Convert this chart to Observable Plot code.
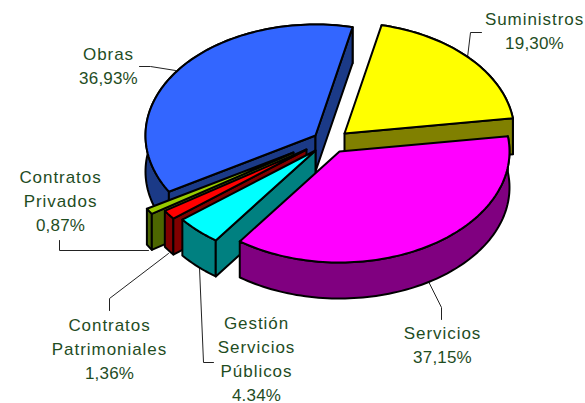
<!DOCTYPE html>
<html>
<head>
<meta charset="utf-8">
<style>
html,body{margin:0;padding:0;background:#fff}
</style>
<script src="https://cdn.jsdelivr.net/npm/d3@7"></script>
<script src="https://cdn.jsdelivr.net/npm/@observablehq/plot@0.6"></script>
</head>
<body>
<script>
// Data, clockwise from the first slice
const categories = ["Suministros","Servicios","Gestión\nServicios\nPúblicos","Contratos\nPatrimoniales","Contratos\nPrivados","Obras"];
const shares = [19.30,37.15,4.34,1.36,0.87,36.93];
const shareLabels = ["19,30%","37,15%","4.34%","1,36%","0,87%","36,93%"];
const topColors = ["#FFFF00","#FF00FF","#00FFFF","#FF0000","#99CC00","#3366FF"];
const sideColors = ["#808000","#800080","#008080","#800000","#4C6600","#1B3A87"];

// Layout of the exploded 3D pie
const apexX = [344,339,315,306,293,315];
const apexY = [133,151,150,149,152,135];
const labelX = [534,442,256,109,60,108];
const labelY = [43,357,395,373,225,78];
const leaderX = [[481,470,467],[428,441,441],[213,203,199],[109,109,168],[59,59,148],[139,150,175]];
const leaderY = [[32,32,57],[281,307,319],[362,362,267],[310,298,253],[240,250,250],[66,66,70]];
const startAngle = 12.6, rx = 170, ry = 111, depth = 36;
const drawOrder = [5,0,4,3,2,1];

const total = d3.sum(shares);
let acc = startAngle;
const spans = shares.map(s => { const a0 = acc; acc += s / total * 360; return [a0, acc]; });

const faces = [];
function addFace(id, fill, pts){ pts.forEach(([x,y]) => faces.push({id, fill, x, y})); }
drawOrder.forEach(i => {
  const [a0,a1] = spans[i], cx = apexX[i], cy = apexY[i];
  const P = a => { const t = a*Math.PI/180; return [cx + rx*Math.sin(t), cy - ry*Math.cos(t)]; };
  const arc = d3.range(a0, a1, 1.5).concat([a1]).map(P);
  const down = ([x,y]) => [x, y + depth];
  const apex = [cx,cy];
  addFace(`${i}-rim`, sideColors[i], [...arc, ...arc.map(down).reverse()]);
  // A straight side shows only when the drop from its edge leaves the slice
  if (a0 % 360 > 180) addFace(`${i}-a`, sideColors[i], [apex, P(a0), down(P(a0)), down(apex)]);
  if (a1 % 360 < 180) addFace(`${i}-b`, sideColors[i], [apex, P(a1), down(P(a1)), down(apex)]);
  addFace(`${i}-top`, topColors[i], [apex, ...arc]);
});

const leaders = leaderX.flatMap((xs,i) => xs.map((x,j) => ({i, x, y: leaderY[i][j]})));
const lineStep = 24;
const labels = categories.map((c,i) => ({name:c, value:shareLabels[i], x:labelX[i], y:labelY[i], ny:labelY[i]-lineStep+5}));

const textStyle = {fontFamily:"Liberation Sans, Arial, sans-serif",fontSize:17,fill:"#1F4D1F",textAnchor:"middle"};
const chart = Plot.plot({
  width:585, height:403, margin:0,
  x:{domain:[0,585], range:[0,585], axis:null},
  y:{domain:[0,403], range:[0,403], axis:null},
  style:{background:"#fff"},
  marks:[
    Plot.line(leaders,{x:"x",y:"y",z:"i",stroke:"#222",strokeWidth:1}),
    Plot.line(faces,{x:"x",y:"y",z:"id",fill:"fill",stroke:"#000",strokeWidth:2,strokeLinejoin:"round",curve:"linear-closed"}),
    Plot.text(labels,{...textStyle,x:"x",y:"ny",text:"name",lineAnchor:"bottom",lineHeight:lineStep/17}),
    Plot.text(labels,{...textStyle,x:"x",y:"y",text:"value",lineAnchor:"middle"})
  ]
});
const textGroups = chart.querySelectorAll('g[aria-label="text"]');
textGroups[0].style.letterSpacing = "0.95px";
textGroups[1].style.letterSpacing = "0.2px";
document.body.appendChild(chart);
</script>
</body>
</html>
